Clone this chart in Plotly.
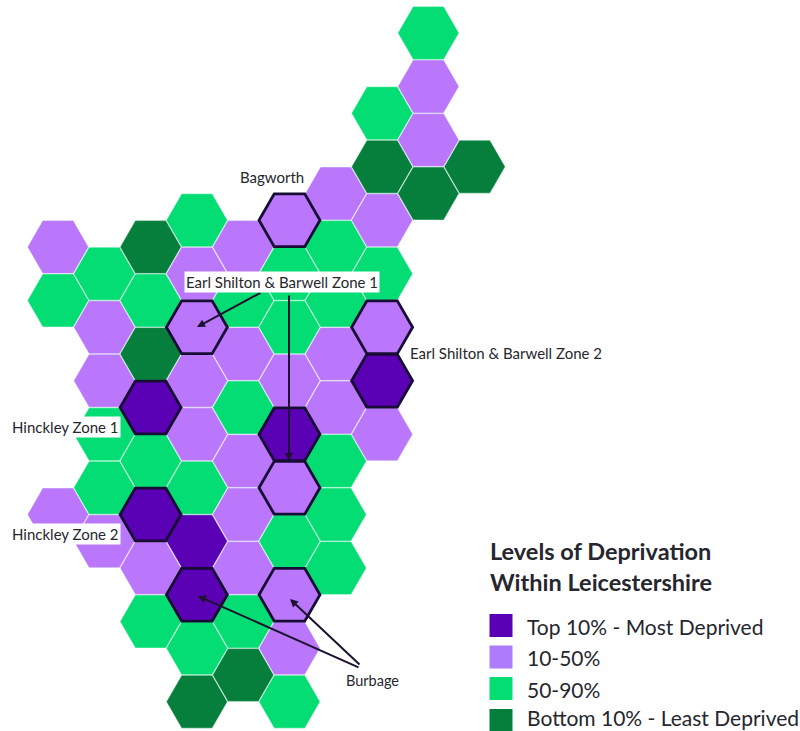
""" Hexagon map of deprivation levels within Leicestershire. """

import plotly.graph_objects as go

LEVEL_NAMES = ["Top 10% - Most Deprived", "10-50%", "50-90%", "Bottom 10% - Least Deprived"]
LEVEL_COLORS = ["#5a00b5", "#bb77fb", "#03dd73", "#067f3d"]

# map cells as (column, half-row) per level
TOP_10 = [(2, 14), (2, 18), (3, 19), (3, 21), (5, 15), (7, 13)]
MID_10_50 = [
    (0, 8), (0, 18), (1, 11), (1, 13), (1, 19), (2, 20), (3, 9), (3, 11), (3, 13),
    (3, 15), (4, 8), (4, 12), (4, 16), (4, 18), (4, 20), (5, 7), (5, 13), (5, 17),
    (5, 21), (5, 23), (6, 6), (6, 12), (6, 14), (7, 7), (7, 11), (7, 15), (8, 2), (8, 4),
]
MID_50_90 = [
    (0, 10), (1, 9), (1, 15), (1, 17), (2, 10), (2, 16), (2, 22), (3, 7), (3, 17),
    (3, 23), (4, 10), (4, 14), (4, 22), (5, 9), (5, 11), (5, 19), (5, 25), (6, 8),
    (6, 10), (6, 16), (6, 18), (6, 20), (7, 3), (7, 9), (8, 0),
]
BOTTOM_10 = [(2, 8), (2, 12), (3, 25), (4, 24), (7, 5), (8, 6), (9, 5)]
LEVEL_CELLS = [TOP_10, MID_10_50, MID_50_90, BOTTOM_10]

# named areas, drawn with a dark outline
OUTLINED = [
    (5, 7), (3, 11), (7, 11), (7, 13), (2, 14), (5, 15), (5, 17), (2, 18), (3, 21), (5, 21),
]

WIDTH = 800
HEIGHT = 731
COL_PX = 46.3
ROW_PX = 26.75
ORIGIN_X = 58
ORIGIN_Y = 33
HEX_SIZE = 61
TEXT_FONT = "Lato"
TEXT_COLOR = "#26262e"


def col_at(px):
    return (px - ORIGIN_X) / COL_PX


def row_at(py):
    return (py - ORIGIN_Y) / ROW_PX


def label(text, x, y, size=15, bg=None, anchor="center", bold=False):
    return dict(
        text=f"<b>{text}</b>" if bold else text,
        xref="paper", yref="paper",
        x=x / WIDTH, y=1 - y / HEIGHT,
        xanchor=anchor, yanchor="middle",
        showarrow=False,
        bgcolor=bg,
        borderpad=1,
        font=dict(family=TEXT_FONT, size=size, color=TEXT_COLOR),
    )


def arrow(x0, y0, x1, y1):
    return dict(
        x=col_at(x1), y=row_at(y1), xref="x", yref="y",
        ax=x0 - x1, ay=y0 - y1, axref="pixel", ayref="pixel",
        text="", showarrow=True,
        arrowhead=2, arrowsize=0.8, arrowwidth=2, arrowcolor="#1d1230",
    )


fig = go.Figure()

for name, color, cells in zip(LEVEL_NAMES, LEVEL_COLORS, LEVEL_CELLS):
    fig.add_trace(go.Scatter(
        x=[c[0] for c in cells],
        y=[c[1] for c in cells],
        mode="markers",
        name=name,
        showlegend=False,
        marker=dict(
            symbol="hexagon2", size=HEX_SIZE, color=color,
            line=dict(color="rgba(235,255,245,0.4)", width=1),
        ),
    ))

# outlines go on top of the filled cells
fig.add_trace(go.Scatter(
    x=[c[0] for c in OUTLINED],
    y=[c[1] for c in OUTLINED],
    mode="markers",
    showlegend=False,
    marker=dict(
        symbol="hexagon2", size=HEX_SIZE, color="rgba(0,0,0,0)",
        line=dict(color="#170c33", width=2.8),
    ),
))

# key swatches
fig.add_trace(go.Scatter(
    x=[col_at(501)] * 4,
    y=[row_at(py) for py in (625.5, 657, 688.5, 720.5)],
    mode="markers",
    showlegend=False,
    marker=dict(symbol="square", size=23, color=["#5a00b5", "#ad7bfb", "#03dd73", "#067f3d"]),
))

annotations = [
    arrow(262, 292, 197, 327),
    arrow(289, 294, 289, 461),
    arrow(360, 668, 198, 596),
    arrow(361, 666, 290, 599),
    label("Bagworth", 272, 177),
    label("Earl Shilton &amp; Barwell Zone 1", 282, 282, bg="white"),
    label("Earl Shilton &amp; Barwell Zone 2", 506, 353),
    label("Hinckley Zone 1", 65, 427, bg="white"),
    label("Hinckley Zone 2", 65, 534, bg="white"),
    label("Burbage", 372, 680, size=14.5),
    label("Levels of Deprivation", 488, 551, size=23.5, anchor="left", bold=True),
    label("Within Leicestershire", 488, 582, size=23.5, anchor="left", bold=True),
]
for name, py in zip(LEVEL_NAMES, (626, 657, 689, 717)):
    annotations.append(label(name, 525, py, size=21, anchor="left"))

fig.update_layout(
    width=WIDTH,
    height=HEIGHT,
    margin=dict(l=0, r=0, t=0, b=0),
    paper_bgcolor="white",
    plot_bgcolor="white",
    xaxis=dict(visible=False, range=[col_at(0), col_at(WIDTH)]),
    yaxis=dict(visible=False, range=[row_at(HEIGHT), row_at(0)]),
    annotations=annotations,
)

fig.write_html(
    "out.html",
    config={"displayModeBar": False},
    post_script="document.body.style.margin='0';document.body.style.overflow='hidden';",
)
